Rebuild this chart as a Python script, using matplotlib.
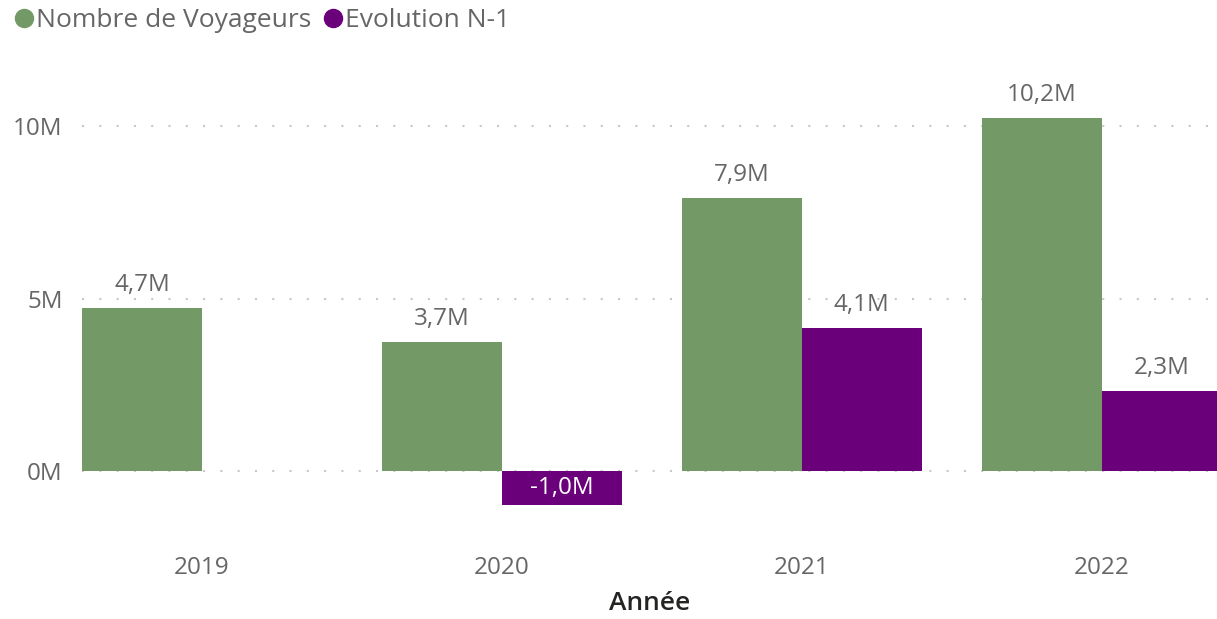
import numpy as np
import matplotlib.pyplot as plt
from matplotlib.lines import Line2D
from matplotlib.ticker import FuncFormatter

plt.rcParams['font.family'] = ['Open Sans', 'DejaVu Sans']

annees = ['2019', '2020', '2021', '2022']
voyageurs = [4.72, 3.74, 7.91, 10.23]          # millions
evolution = [np.nan, -0.99, 4.14, 2.32]        # millions
lab_voyageurs = ['4,7M', '3,7M', '7,9M', '10,2M']
lab_evolution = ['', '-1,0M', '4,1M', '2,3M']

vert = '#739A66'
violet = '#6B007B'
gris = '#666666'

fig = plt.figure(figsize=(12.17, 6.19), dpi=100)
ax = fig.add_axes([0.0674, 0.155, 0.9326, 0.725])

x = np.arange(len(annees))
w = 0.4
b1 = ax.bar(x - w / 2, voyageurs, w, color=vert, zorder=3)
b2 = ax.bar(x + w / 2, evolution, w, color=violet, zorder=3)

for rect, lab in zip(b1, lab_voyageurs):
    ax.annotate(lab, (rect.get_x() + rect.get_width() / 2, rect.get_height()),
                xytext=(0, 8), textcoords='offset points', ha='center', va='bottom',
                fontsize=17.5, color=gris)

for rect, lab, v in zip(b2, lab_evolution, evolution):
    if not lab:
        continue
    cx = rect.get_x() + rect.get_width() / 2
    if v < 0:
        ax.text(cx, v / 2, lab, ha='center', va='center', fontsize=17.5, color='white', zorder=4)
    else:
        ax.annotate(lab, (cx, v), xytext=(0, 8), textcoords='offset points',
                    ha='center', va='bottom', fontsize=17.5, color=gris)

ax.set_xlim(-0.4, 3.385)
ax.set_ylim(-1.5, 11.5)
ax.set_yticks([0, 5, 10])
ax.yaxis.set_major_formatter(FuncFormatter(lambda v, p: f'{v:.0f}M'))
ax.set_xticks(x)
ax.set_xticklabels(annees)
ax.tick_params(axis='both', length=0, labelsize=17.5, labelcolor=gris)
ax.tick_params(axis='y', pad=14)
ax.tick_params(axis='x', pad=24)
ax.grid(axis='y', color='#c8c8c8', linestyle=(0, (1, 7.3)), linewidth=1.5, zorder=0)
for s in ax.spines.values():
    s.set_visible(False)

ax.set_xlabel('Année', fontsize=19, color='#252423', fontweight='semibold', labelpad=8)

handles = [Line2D([], [], marker='o', linestyle='', color=vert, markersize=13),
           Line2D([], [], marker='o', linestyle='', color=violet, markersize=13)]
fig.legend(handles, ['Nombre de Voyageurs', 'Evolution N-1'], loc='upper left',
           bbox_to_anchor=(-0.012, 1.025), ncol=2, frameon=False, fontsize=19,
           handletextpad=-0.1, columnspacing=0.3, handlelength=1.1, labelcolor=gris)

fig.savefig('out.png', dpi=100)
